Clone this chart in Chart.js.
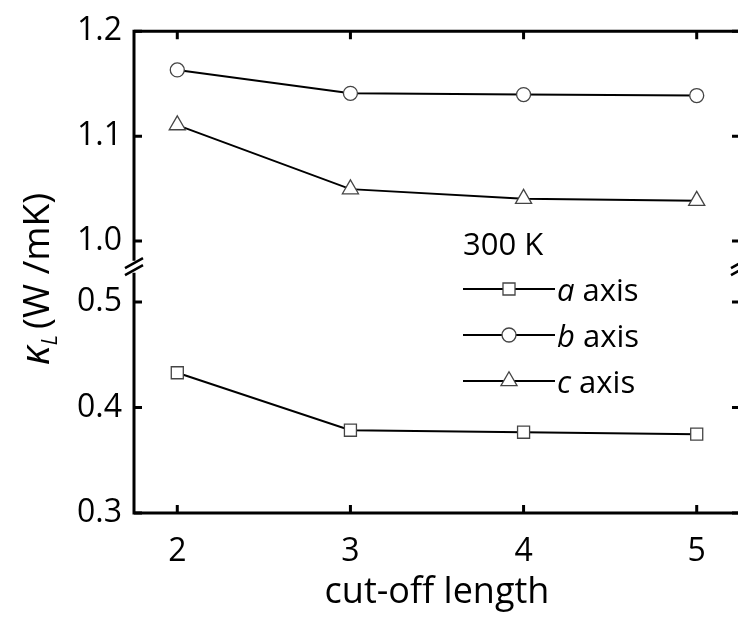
<!DOCTYPE html>
<html>
<head>
<meta charset="utf-8">
<style>
  html, body { margin: 0; padding: 0; background: #fff; overflow: hidden; }
  #wrap { width: 750px; height: 618px; }
</style>
<script src="https://cdn.jsdelivr.net/npm/chart.js@4/dist/chart.umd.min.js"></script>
</head>
<body>
<div id="wrap"><canvas id="chart" width="750" height="618"></canvas></div>
<script>
'use strict';

// cut-off length (x values)
var cutoffs = [2, 3, 4, 5];

// lattice thermal conductivity at 300 K, W/mK
var kappaA = [0.433, 0.3785, 0.3766, 0.3748];
var kappaB = [1.1631, 1.1408, 1.1396, 1.1387];
var kappaC = [1.1105, 1.0495, 1.0404, 1.0385];

var seriesNames = ['a', 'b', 'c'];
var legendTitle = '300 K';

// axis ticks; the y axis is broken between 0.53 and 0.98
var xTicks = [2, 3, 4, 5];
var upperTicks = [1.0, 1.05, 1.1, 1.15, 1.2];
var lowerTicks = [0.3, 0.35, 0.4, 0.45, 0.5];
var majorTicks = [0.3, 0.4, 0.5, 1.0, 1.1, 1.2];

var FONT = '"Open Sans", "DejaVu Sans", sans-serif';

function isMajor(v) {
  return majorTicks.some(function(m) {
    return Math.abs(m - v) < 1e-6;
  });
}

function toPoints(ys) {
  return cutoffs.map(function(x, i) {
    return {x: x, y: ys[i]};
  });
}

function fixTicks(list) {
  return function(scale) {
    scale.ticks = list.map(function(v) {
      return {value: v};
    });
  };
}

/**
 * Draw one marker the same way as the datasets do.
 */
function drawMarker(ctx, style, x, y, r) {
  ctx.beginPath();
  if (style === 'circle') {
    ctx.arc(x, y, r, 0, Math.PI * 2);
  } else if (style === 'rect') {
    var s = Math.SQRT1_2 * r;
    ctx.rect(x - s, y - s, 2 * s, 2 * s);
  } else {
    ctx.moveTo(x, y - r);
    ctx.lineTo(x + r * Math.sin(Math.PI * 2 / 3), y - r * Math.cos(Math.PI * 2 / 3));
    ctx.lineTo(x - r * Math.sin(Math.PI * 2 / 3), y - r * Math.cos(Math.PI * 2 / 3));
    ctx.closePath();
  }
  ctx.fillStyle = '#fff';
  ctx.fill();
  ctx.lineWidth = 1.3;
  ctx.strokeStyle = '#444';
  ctx.stroke();
}

var markerStyles = ['rect', 'circle', 'triangle'];
var markerSizes = [8.5, 7, 9.3];

function makeDataset(i, ys, axis) {
  return {
    label: seriesNames[i] + ' axis',
    data: toPoints(ys),
    yAxisID: axis,
    borderColor: '#000',
    borderWidth: 2,
    pointStyle: markerStyles[i],
    pointRadius: markerSizes[i],
    pointBackgroundColor: '#fff',
    pointBorderColor: '#444',
    pointBorderWidth: 1.3,
    tension: 0,
    clip: false
  };
}

// frame, inward ticks, axis break, legend and the y title
var decorations = {
  id: 'decorations',
  afterDraw: function(chart) {
    var ctx = chart.ctx;
    var area = chart.chartArea;
    var L = area.left, R = area.right, T = area.top, B = area.bottom;
    var yb = chart.scales.yHi.bottom;
    var gap = 6;

    ctx.save();
    ctx.strokeStyle = '#000';
    ctx.lineCap = 'butt';

    // frame (the right edge sits just past the visible window)
    ctx.lineWidth = 3;
    ctx.beginPath();
    ctx.moveTo(L - 1.5, T); ctx.lineTo(R + 1.5, T);
    ctx.moveTo(L - 1.5, B); ctx.lineTo(R + 1.5, B);
    [L, R].forEach(function(xs) {
      ctx.moveTo(xs, T); ctx.lineTo(xs, yb - gap);
      ctx.moveTo(xs, yb + gap); ctx.lineTo(xs, B);
    });
    ctx.stroke();

    // break marks
    ctx.lineWidth = 2.5;
    ctx.beginPath();
    [L, R].forEach(function(xs) {
      [-3.5, 3.5].forEach(function(off) {
        ctx.moveTo(xs - 9, yb + off + 5);
        ctx.lineTo(xs + 9, yb + off - 5);
      });
    });
    ctx.stroke();

    // ticks pointing into the plot
    ctx.lineWidth = 3;
    ctx.beginPath();
    chart.scales.x.ticks.forEach(function(t) {
      var px = chart.scales.x.getPixelForValue(t.value);
      ctx.moveTo(px, B); ctx.lineTo(px, B - 8);
      ctx.moveTo(px, T); ctx.lineTo(px, T + 8);
    });
    ['yHi', 'yLo'].forEach(function(id) {
      var s = chart.scales[id];
      s.ticks.forEach(function(t) {
        var py = s.getPixelForValue(t.value);
        var len = isMajor(t.value) ? 8 : 5;
        ctx.moveTo(L, py); ctx.lineTo(L + len, py);
        ctx.moveTo(R, py); ctx.lineTo(R - len, py);
      });
    });
    ctx.stroke();

    // legend
    var lx = 463, rows = [289, 335, 381];
    ctx.fillStyle = '#000';
    ctx.textBaseline = 'alphabetic';
    ctx.textAlign = 'left';
    ctx.font = '31px ' + FONT;
    ctx.fillText(legendTitle, lx, 255);
    chart.data.datasets.forEach(function(ds, i) {
      var y = rows[i];
      ctx.beginPath();
      ctx.lineWidth = 2;
      ctx.strokeStyle = '#000';
      ctx.moveTo(lx, y); ctx.lineTo(lx + 92, y);
      ctx.stroke();
      drawMarker(ctx, ds.pointStyle, lx + 46, y, ds.pointRadius);
      ctx.fillStyle = '#000';
      ctx.font = 'italic 31px ' + FONT;
      ctx.fillText(seriesNames[i], lx + 94, y + 12);
      var w = ctx.measureText(seriesNames[i]).width;
      ctx.font = '31px ' + FONT;
      ctx.fillText(' axis', lx + 94 + w, y + 12);
    });

    // y title: kappa_L (W /mK)
    ctx.translate(49, 365);
    ctx.rotate(-Math.PI / 2);
    ctx.font = 'italic 40px ' + FONT;
    ctx.fillText('\u03ba', 0, 0);
    var kw = ctx.measureText('\u03ba').width;
    ctx.font = 'italic 22px ' + FONT;
    ctx.fillText('L', kw, 8);
    var lw = ctx.measureText('L').width;
    ctx.font = '37px ' + FONT;
    ctx.fillText('(W /mK)', kw + lw + 6, 0);
    ctx.restore();
  }
};

var tickFont = {family: FONT, size: 32};

var chart = new Chart(document.getElementById('chart'), {
  type: 'line',
  data: {
    datasets: [
      makeDataset(0, kappaA, 'yLo'),
      makeDataset(1, kappaB, 'yHi'),
      makeDataset(2, kappaC, 'yHi')
    ]
  },
  options: {
    responsive: false,
    animation: false,
    devicePixelRatio: 1,
    layout: {autoPadding: false, padding: {left: 0, top: 24, right: 10, bottom: 0}},
    plugins: {legend: {display: false}, tooltip: {enabled: false}},
    scales: {
      x: {
        type: 'linear',
        min: 1.75,
        max: 5.25,
        afterBuildTicks: fixTicks(xTicks),
        afterFit: function(s) {
          s.height = 105;
          s.paddingLeft = 0;
          s.paddingRight = 0;
        },
        grid: {display: false, drawTicks: false},
        border: {display: false},
        ticks: {color: '#000', font: tickFont, padding: 20},
        title: {
          display: true,
          text: 'cut-off length',
          color: '#000',
          font: {family: FONT, size: 36},
          padding: {top: 0, bottom: 4}
        }
      },
      yLo: {
        type: 'linear',
        position: 'left',
        stack: 'kappa',
        stackWeight: 250,
        min: 0.3,
        max: 0.5336,
        afterBuildTicks: fixTicks(lowerTicks),
        afterFit: function(s) { s.width = 134; },
        grid: {display: false, drawTicks: false},
        border: {display: false},
        ticks: {
          color: '#000', font: tickFont, padding: 12,
          callback: function(v) { return isMajor(v) ? v.toFixed(1) : ''; }
        }
      },
      yHi: {
        type: 'linear',
        position: 'left',
        stack: 'kappa',
        stackWeight: 239,
        min: 0.9756,
        max: 1.2,
        afterBuildTicks: fixTicks(upperTicks),
        afterFit: function(s) { s.width = 134; },
        grid: {display: false, drawTicks: false},
        border: {display: false},
        ticks: {
          color: '#000', font: tickFont, padding: 12,
          callback: function(v) { return isMajor(v) ? v.toFixed(1) : ''; }
        }
      }
    }
  },
  plugins: [decorations]
});
</script>
</body>
</html>
